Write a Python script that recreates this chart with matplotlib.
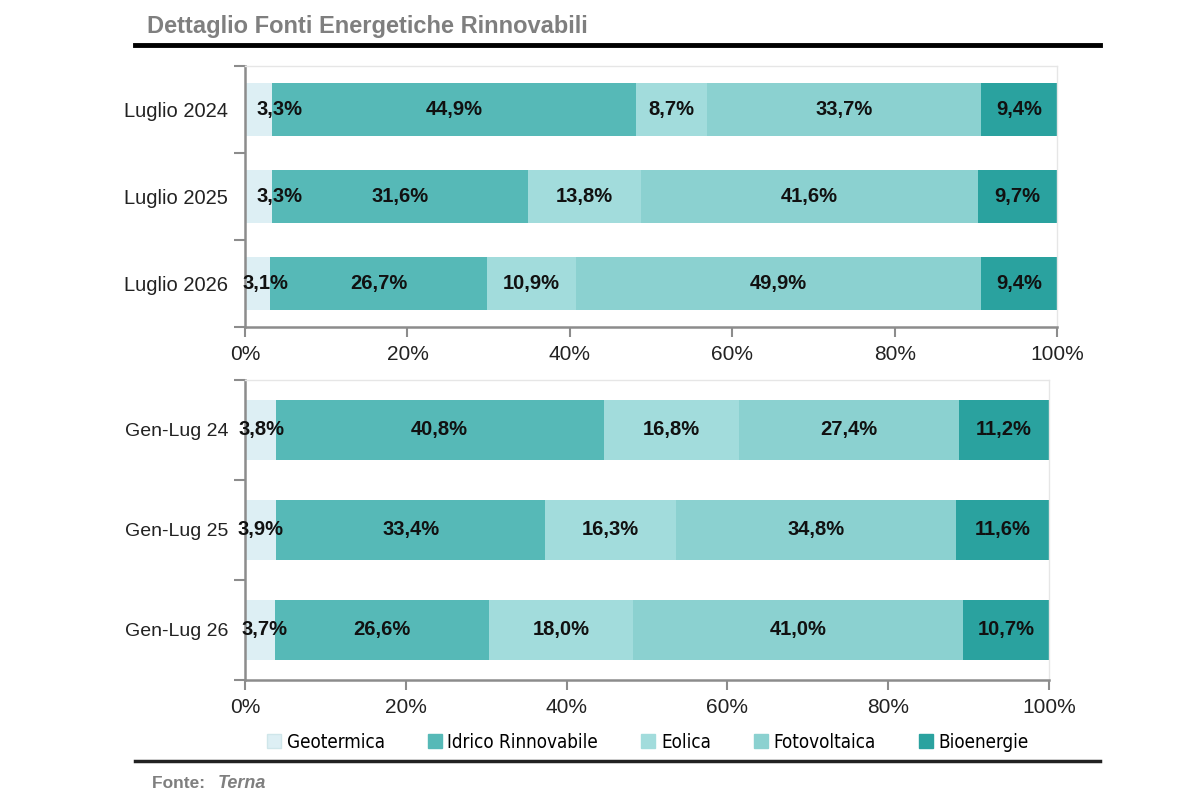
import numpy as np
import matplotlib.pyplot as plt
from matplotlib.patches import Patch

plt.rcParams['font.family'] = ['Liberation Sans', 'DejaVu Sans']

# dati
fonti = ['Geotermica', 'Idrico Rinnovabile', 'Eolica', 'Fotovoltaica', 'Bioenergie']
colori = ['#ddeff4', '#56b9b7', '#a2dcdc', '#8bd1d0', '#2aa29f']

mesi = ['Luglio 2024', 'Luglio 2025', 'Luglio 2026']
geo_m = [3.3, 3.3, 3.1]
idro_m = [44.9, 31.6, 26.7]
eol_m = [8.7, 13.8, 10.9]
foto_m = [33.7, 41.6, 49.9]
bio_m = [9.4, 9.7, 9.4]

periodi = ['Gen-Lug 24', 'Gen-Lug 25', 'Gen-Lug 26']
geo_p = [3.8, 3.9, 3.7]
idro_p = [40.8, 33.4, 26.6]
eol_p = [16.8, 16.3, 18.0]
foto_p = [27.4, 34.8, 41.0]
bio_p = [11.2, 11.6, 10.7]

fig = plt.figure(figsize=(12, 8), dpi=100)


def pannello(ax, cats, serie, altezza, geo_shift, fs_cat):
    y = np.arange(len(cats))
    left = np.zeros(len(cats))
    for k, (vals, col) in enumerate(zip(serie, colori)):
        vals = np.array(vals)
        ax.barh(y, vals, left=left, height=altezza, color=col, edgecolor='none')
        for i, v in enumerate(vals):
            xc = left[i] + v / 2
            if k == 0:
                xc += geo_shift[i]
            ax.text(xc, y[i], f'{v:.1f}%'.replace('.', ','), ha='center', va='center',
                    fontsize=14.5, fontweight='bold', color='#111111')
        left += vals
    ax.set_xlim(0, 100)
    ax.set_ylim(len(cats) - 0.5, -0.5)
    ax.set_yticks(y)
    ax.set_yticklabels(cats, fontsize=fs_cat, color='#222222')
    ax.set_yticks(np.arange(len(cats) + 1) - 0.5, minor=True)
    ax.tick_params(axis='y', which='major', length=0, pad=12)
    ax.tick_params(axis='y', which='minor', length=8, width=1.5, color='#8c8c8c')
    ax.set_xticks(np.arange(0, 101, 20))
    ax.set_xticklabels([f'{t}%' for t in range(0, 101, 20)], fontsize=15, color='#222222')
    ax.tick_params(axis='x', length=7, width=1.5, color='#8c8c8c', pad=6)
    for s in ['left', 'bottom']:
        ax.spines[s].set_color('#8c8c8c')
        ax.spines[s].set_linewidth(1.8)
    for s in ['top', 'right']:
        ax.spines[s].set_color('#e6e6e6')
        ax.spines[s].set_linewidth(1)


ax1 = fig.add_axes([0.2042, 0.59125, 0.6767, 0.32625])
pannello(ax1, mesi, [geo_m, idro_m, eol_m, foto_m, bio_m], 0.62, [2.6, 2.6, 1.0], 14.5)

ax2 = fig.add_axes([0.2042, 0.15, 0.67, 0.375])
pannello(ax2, periodi, [geo_p, idro_p, eol_p, foto_p, bio_p], 0.6, [0.1, 0.0, 0.6], 14)

# titolo e linee
fig.text(147 / 1200, 1 - 27 / 800, 'Dettaglio Fonti Energetiche Rinnovabili', fontsize=17,
         fontweight='bold', color='#7f7f7f', ha='left', va='center')
fig.add_artist(plt.Line2D([135 / 1200, 1100 / 1200], [1 - 45 / 800] * 2, color='black', lw=3.5))
fig.add_artist(plt.Line2D([135 / 1200, 1100 / 1200], [1 - 761 / 800] * 2, color='#222222', lw=2.5))

fig.text(152 / 1200, 1 - 783 / 800, 'Fonte: ', fontsize=12.5, fontweight='bold', color='#7f7f7f',
         ha='left', va='center')
fig.text(218 / 1200, 1 - 783 / 800, 'Terna', fontsize=13, fontweight='bold', style='italic',
         color='#7f7f7f', ha='left', va='center')

handles = [Patch(facecolor=c, edgecolor='#cfe6ea' if i == 0 else c, label=f)
           for i, (f, c) in enumerate(zip(fonti, colori))]
fig.legend(handles=handles, loc='center', bbox_to_anchor=(648 / 1200, 1 - 742 / 800), ncol=5,
           frameon=False, handlelength=0.75, handleheight=0.75, handletextpad=0.3,
           columnspacing=2.3, prop={'family': ['DejaVu Sans'], 'stretch': 'condensed', 'size': 13.5})

fig.savefig('out.png', dpi=100)
